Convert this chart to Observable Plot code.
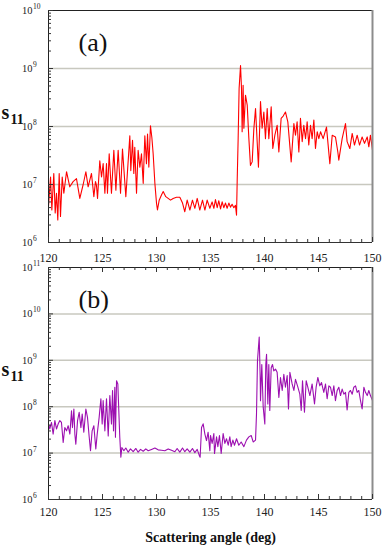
<!DOCTYPE html>
<html><head><meta charset="utf-8">
<script src="https://cdn.jsdelivr.net/npm/d3@7"></script>
<script src="https://cdn.jsdelivr.net/npm/@observablehq/plot@0.6"></script>
<style>
html,body{margin:0;padding:0;background:#fff;}
#wrap{position:relative;width:391px;height:552px;overflow:hidden;font-family:"Liberation Serif","DejaVu Serif",serif;}
#wrap > div{position:absolute;left:0;}
#wrap svg{overflow:visible;font-family:"Liberation Serif","DejaVu Serif",serif !important;}
#wrap svg text, #wrap svg g{font-family:"Liberation Serif","DejaVu Serif",serif !important;}
</style></head><body>
<div id="wrap"><div id="pa" style="top:0px"></div><div id="pb" style="top:258px"></div></div>
<script>
// ---- data: scattering angle (deg) and log10(s11) ----
const angleA = [120.0,120.19,120.31,120.49,120.62,120.74,120.86,120.99,121.11,121.27,
121.42,121.67,121.97,122.28,122.59,122.9,123.21,123.46,123.67,123.98,
124.2,124.35,124.44,124.54,124.75,124.91,125.06,125.22,125.37,125.46,
125.62,125.83,126.05,126.24,126.45,126.67,126.85,127.16,127.53,127.62,
127.78,127.9,127.99,128.15,128.3,128.46,128.61,128.77,128.92,129.07,
129.17,129.29,129.44,129.57,129.69,129.85,130.0,130.09,130.25,130.46,
130.62,130.86,131.08,131.3,131.54,131.85,132.16,132.41,132.62,132.84,
133.09,133.33,133.55,133.77,134.01,134.26,134.48,134.69,134.94,
135.15,135.31,135.46,135.62,135.77,135.93,136.08,136.23,136.39,136.54,
136.7,136.85,137.0,137.16,137.31,137.41,137.47,137.56,137.65,137.78,
137.87,137.93,138.02,138.09,138.24,138.4,138.55,138.7,138.86,139.01,
139.17,139.32,139.44,139.63,139.78,139.94,140.09,140.25,140.4,140.62,
140.77,140.96,141.17,141.33,141.54,141.73,141.94,142.16,142.47,142.72,
142.87,143.02,143.18,143.33,143.49,143.64,143.8,143.95,144.1,144.26,
144.41,144.57,144.72,144.88,145.03,145.19,145.43,145.74,146.05,146.27,
146.57,146.79,146.88,147.19,147.5,147.65,147.9,148.12,148.33,148.58,
148.8,149.04,149.26,149.51,149.66,149.81,150.0];
const logS11A = [6.62,7.13,6.56,7.19,6.51,6.85,6.39,7.19,6.45,7.13,
6.85,7.22,6.96,7.05,7.10,6.76,7.0,7.22,6.96,7.19,
6.79,7.05,6.99,6.76,7.41,7.13,7.36,6.85,7.36,6.85,
7.53,6.85,7.59,6.90,7.59,6.85,7.61,6.79,7.84,7.24,
7.76,7.19,7.64,6.85,7.59,7.30,7.53,7.02,7.84,7.36,
7.87,7.30,8.01,7.81,7.53,7.02,6.68,6.56,6.73,6.82,
6.88,6.79,6.76,6.73,6.76,6.78,6.78,6.68,6.53,6.73,
6.56,6.73,6.59,6.76,6.56,6.73,6.56,6.73,6.59,
6.70,6.59,6.74,6.60,6.72,6.58,6.70,6.60,6.68,6.59,
6.68,6.61,6.66,6.60,6.64,6.47,7.05,7.79,8.66,9.05,
8.66,7.91,8.71,7.97,8.54,8.37,7.80,7.33,7.39,7.95,
8.31,7.74,7.30,8.43,7.97,8.25,7.79,8.31,7.79,8.34,
7.62,7.85,8.02,7.56,8.14,8.18,8.25,8.08,7.39,8.05,
7.85,8.08,7.56,8.14,7.74,8.02,7.79,8.08,7.68,8.02,
7.79,8.11,7.62,7.91,7.79,7.91,7.79,7.99,7.36,7.85,
7.82,7.56,7.42,7.79,8.05,7.74,7.62,7.88,7.68,7.85,
7.68,7.82,7.71,7.82,7.65,7.85,7.59];

const angleB = [120.0,120.12,120.28,120.43,120.59,120.74,120.9,121.05,121.2,121.36,
121.51,121.67,121.82,121.98,122.13,122.22,122.35,122.44,122.53,122.69,
122.84,123.0,123.12,123.27,123.46,123.61,123.77,123.89,124.04,124.2,
124.38,124.51,124.69,124.85,124.97,125.06,125.22,125.37,125.53,125.68,
125.83,125.93,126.02,126.14,126.2,126.3,126.42,126.51,126.6,126.7,
126.79,126.98,127.16,127.38,127.59,127.84,128.09,128.3,128.52,128.77,
129.01,129.23,129.54,129.85,130.15,130.46,130.77,131.08,131.39,131.7,
131.91,132.16,132.41,132.62,132.84,133.09,133.33,133.55,133.77,133.96,
134.04,134.17,134.32,134.48,134.63,134.78,134.94,
135.0,135.15,135.31,135.37,135.56,135.68,135.83,135.99,136.17,136.33,
136.48,136.64,136.79,136.91,137.07,137.22,137.41,137.62,137.84,138.09,
138.33,138.55,138.77,138.95,139.17,139.26,139.35,139.51,139.6,139.63,
139.75,139.88,140.03,140.12,140.19,140.31,140.4,140.49,140.62,140.74,
140.86,141.02,141.17,141.33,141.48,141.64,141.79,141.94,142.1,142.22,
142.35,142.56,142.72,142.87,143.09,143.27,143.4,143.52,143.7,143.86,
144.01,144.2,144.41,144.63,144.78,144.94,145.12,145.28,145.49,145.65,
145.8,145.96,146.11,146.27,146.42,146.57,146.73,146.88,147.04,147.19,
147.35,147.5,147.65,147.81,147.96,148.12,148.27,148.43,148.58,148.73,
148.89,149.04,149.2,149.35,149.51,149.66,149.81,150.0];
const logS11B = [7.63,7.52,7.66,7.41,7.70,7.52,7.63,7.70,7.66,7.23,
7.55,7.48,7.59,7.41,7.91,7.55,7.95,7.41,7.19,7.70,
7.88,7.55,7.84,7.45,7.95,7.77,7.34,7.05,7.48,7.59,
7.09,7.41,7.77,8.17,7.63,8.13,7.48,8.17,7.37,8.24,
7.63,8.35,7.48,8.42,7.34,8.56,8.49,7.91,7.34,6.91,
7.12,7.05,7.11,7.02,7.09,7.03,7.10,7.02,7.08,7.04,
7.09,7.05,7.08,7.11,7.07,7.06,7.05,7.09,7.06,7.03,
7.10,7.02,7.11,7.03,7.09,7.02,7.10,7.01,7.08,6.95,
6.91,7.55,7.63,7.41,7.27,7.45,7.05,
7.38,7.21,7.42,6.99,7.35,7.14,7.38,6.99,7.42,7.21,
7.31,7.17,7.35,7.14,7.28,7.17,7.31,7.17,7.24,7.14,
7.28,7.35,7.38,7.24,7.28,7.85,8.99,9.50,8.63,8.13,
8.91,7.99,7.63,8.91,9.13,8.06,8.91,7.92,8.84,8.91,
8.77,8.81,8.74,8.20,8.63,8.35,8.70,8.42,8.67,7.95,
8.74,8.49,8.35,8.59,8.42,8.27,7.92,8.56,7.88,8.56,
8.42,8.24,8.49,8.06,8.42,8.63,8.45,8.52,8.31,8.49,
8.17,8.45,8.42,8.24,8.45,8.13,8.35,8.42,8.24,8.38,
8.27,8.31,7.93,8.31,8.35,8.27,8.42,8.45,8.31,8.35,
8.13,7.95,8.42,8.31,8.24,8.35,8.24,8.13];

const xTicks = [120, 125, 130, 135, 140, 145, 150];
const expA = [6, 7, 8, 9, 10];
const expB = [6, 7, 8, 9, 10, 11];
const gridA = [7, 8, 9];
const gridB = [7, 8, 9, 10];
const tagA = "(a)", tagB = "(b)";
const yLabel = "s", ySub = "11";
const xLabel = "Scattering angle (deg)";

// ---- drawing ----
const FONT = "'Liberation Serif', 'DejaVu Serif', serif";
const W = 391, ML = 48, MR = 19;
const xMinor = d3.range(120, 151, 1);

function panel(o) {
  if (o.angles.length !== o.logs.length) console.error("length mismatch", o.angles.length, o.logs.length);
  const data = o.angles.map((a, i) => ({a, v: Math.pow(10, o.logs[i])}));
  const ph = o.height - o.mt - o.mb, pw = W - ML - MR;
  const lo = Math.pow(10, o.exps[0]), hi = Math.pow(10, o.exps[o.exps.length - 1]);
  const minor = [];
  o.exps.slice(0, -1).forEach(e => { for (let k = 2; k <= 9; k++) minor.push(k * Math.pow(10, e)); });
  const T = {fontFamily: FONT};
  const marks = [
    Plot.ruleY(o.grid.map(e => Math.pow(10, e)), {stroke: "#c8c8bf", strokeWidth: 1.5}),
    Plot.line(data, {x: "a", y: "v", stroke: o.color, strokeWidth: 1.1}),
    Plot.ruleY([lo], {stroke: "#333"}),
    Plot.ruleY([hi], {stroke: "#222"}),
    Plot.ruleX([120], {stroke: "#222"}),
    Plot.ruleX([150], {stroke: "#8c8c8c", strokeWidth: 2}),
    Plot.tickX(xTicks, {x: d => d, insetTop: ph - 5, stroke: "#333"}),
    Plot.tickX(xMinor, {x: d => d, insetTop: ph - 3, stroke: "#333"}),
    Plot.tickY(o.exps.map(e => Math.pow(10, e)), {y: d => d, insetRight: pw - 5, stroke: "#333"}),
    Plot.tickY(minor, {y: d => d, insetRight: pw - 3, stroke: "#333"}),
    Plot.text(o.exps, {...T, y: e => Math.pow(10, e), text: () => "10", frameAnchor: "left", textAnchor: "end", dx: -16, fontSize: 10.5, fill: "#222"}),
    Plot.text(o.exps, {...T, y: e => Math.pow(10, e), text: e => String(e), frameAnchor: "left", textAnchor: "start", dx: -15.5, dy: -1.5, lineAnchor: "bottom", fontSize: 7.5, fill: "#222"}),
    Plot.axisX({...T, ticks: xTicks, tickSize: 0, tickPadding: o.tickPad, fontSize: 12, fill: "#222", label: null}),
    Plot.text([o.tag], {...T, frameAnchor: "top-left", dx: 30, dy: 40, lineAnchor: "bottom", textAnchor: "start", fontSize: 26, fill: "#111"}),
    Plot.text([yLabel], {...T, frameAnchor: "top-left", dx: -47, dy: o.sDy, lineAnchor: "bottom", textAnchor: "start", fontSize: 20, fontWeight: "bold", fill: "#111"}),
    Plot.text([ySub], {...T, frameAnchor: "top-left", dx: -38, dy: o.sDy + 5, lineAnchor: "bottom", textAnchor: "start", fontSize: 14, fontWeight: "bold", fill: "#111"})
  ];
  if (o.topTicks) {
    marks.push(Plot.tickX(xTicks, {x: d => d, insetBottom: ph - 5, stroke: "#333"}));
    marks.push(Plot.tickX(xMinor, {x: d => d, insetBottom: ph - 3, stroke: "#333"}));
  }
  if (o.xTitle) {
    marks.push(Plot.text([o.xTitle], {...T, frameAnchor: "bottom", dy: 42, lineAnchor: "bottom", fontSize: 14, fontWeight: "bold", fill: "#111"}));
  }
  return Plot.plot({
    width: W, height: o.height,
    marginLeft: ML, marginRight: MR, marginTop: o.mt, marginBottom: o.mb,
    style: {fontFamily: FONT, background: "transparent", overflow: "visible"},
    x: {domain: [120, 150]},
    y: {type: "log", domain: [lo, hi], axis: null},
    marks
  });
}

document.getElementById("pa").append(panel({
  angles: angleA, logs: logS11A, exps: expA, grid: gridA, color: "#ff0000",
  height: 268, mt: 10, mb: 26, tickPad: 11, tag: tagA, sDy: 108, topTicks: false
}));
document.getElementById("pb").append(panel({
  angles: angleB, logs: logS11B, exps: expB, grid: gridB, color: "#9c0fb0",
  height: 294, mt: 9, mb: 53, tickPad: 8, tag: tagB, sDy: 108, topTicks: true, xTitle: xLabel
}));
</script>
</body></html>
